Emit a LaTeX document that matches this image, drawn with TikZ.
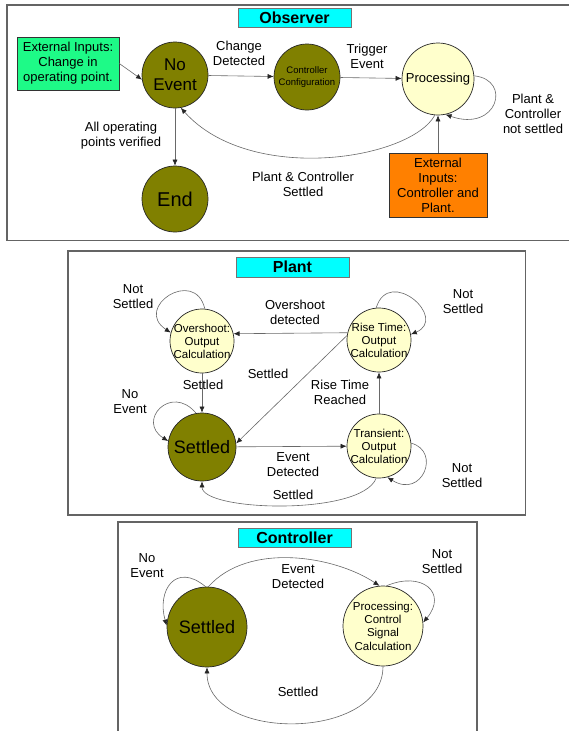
\documentclass[tikz,border=0pt]{standalone}
\usepackage{fontspec}
\setmainfont{Liberation Sans}
\usetikzlibrary{arrows.meta}
\definecolor{olivefill}{RGB}{128,128,0}
\definecolor{paleyellow}{RGB}{255,255,204}
\definecolor{titlecyan}{RGB}{0,255,255}
\definecolor{greenbox}{RGB}{30,250,135}
\definecolor{orangebox}{RGB}{255,128,0}
\definecolor{framegray}{RGB}{100,100,100}
\definecolor{edgegray}{RGB}{105,105,105}
\begin{document}
\begin{tikzpicture}[x=1pt,y=-1pt,
  frame/.style={draw=framegray, line width=1.3pt},
  titlebox/.style={fill=titlecyan, draw=black!55, line width=0.6pt, minimum width=113pt, minimum height=19pt, inner sep=0pt, font=\fontsize{16}{18}\selectfont\bfseries},
  darkstate/.style={circle, draw=black!85, fill=olivefill, inner sep=0pt, line width=0.7pt},
  lightstate/.style={circle, draw=black!85, fill=paleyellow, inner sep=0pt, line width=0.7pt},
  statetext/.style={align=center, inner sep=0pt},
  inbox/.style={draw=black!80, line width=0.6pt, align=center, inner sep=0pt, font=\fontsize{13}{15}\selectfont},
  lbl/.style={align=center, inner sep=0pt, font=\fontsize{13}{15}\selectfont},
  arr/.style={draw=edgegray, line width=0.6pt, -{Latex[length=6pt,width=5pt,color=black!85]}},
]
\useasboundingbox (0,0) rectangle (568,731);
\fill[white] (0,0) rectangle (568,731);

% ---------------- Observer ----------------
\draw[frame] (575,5) -- (7,5) -- (7,240.5) -- (575,240.5);
\node[titlebox] (tobs) at (294.5,18) {Observer};

\node[inbox, fill=greenbox, minimum width=102pt, minimum height=53pt] (green) at (68,63.5) {External Inputs:\\Change in\\operating point.};
\node[inbox, fill=orangebox, minimum width=98pt, minimum height=64pt] (orange) at (438,185) {External\\Inputs:\\Controller and\\Plant.};

\node[darkstate, minimum size=66pt] (noev) at (175,75) {};
\node[statetext, font=\fontsize{17}{20}\selectfont] (noevt) at (noev) {No\\Event};
\node[darkstate, minimum size=66pt] (cc) at (307,77) {};
\node[statetext, font=\fontsize{9.5}{11.5}\selectfont] (cct) at (cc) {Controller\\Configuration};
\node[lightstate, minimum size=72pt] (proc) at (438,79) {};
\node[statetext, font=\fontsize{13}{15}\selectfont] (proct) at (proc) {Processing};
\node[darkstate, minimum size=66pt] (end) at (175,199) {};
\node[statetext, font=\fontsize{20}{22}\selectfont] (endt) at (end) {End};

\node[lbl] (lchg) at (239,53.5) {Change\\Detected};
\node[lbl] (ltrig) at (367,56) {Trigger\\Event};
\node[lbl] (lnotset) at (533,113.5) {Plant \&\\Controller\\not settled};
\node[lbl] (lallop) at (121,136) {All operating\\points verified};
\node[lbl] (lpcs) at (303,184.5) {Plant \& Controller\\Settled};

\draw[arr] (green.east) -- (noev.188);
\draw[arr] (noev) -- (cc);
\draw[arr] (cc) -- (proc);
\draw[arr] (proc.5) .. controls +(38,4) and +(52,18) .. (proc.-78);
\draw[arr] (orange) -- (proc);
\draw[arr] (proc.-95) .. controls (410,160) and (250,185) .. (noev.-80);
\draw[arr] (noev) -- (end);

% ---------------- Plant ----------------
\draw[frame] (68,251) rectangle (525.5,515);
\node[titlebox, minimum height=20pt] (tplant) at (292.5,267) {Plant};

\node[lightstate, minimum size=64pt] (ov) at (202,341) {};
\node[statetext, font=\fontsize{11.5}{13}\selectfont] (ovt) at (ov) {Overshoot:\\Output\\Calculation};
\node[lightstate, minimum size=64pt] (rise) at (379,340) {};
\node[statetext, font=\fontsize{11.5}{13}\selectfont] (riset) at (rise) {Rise Time:\\Output\\Calculation};
\node[darkstate, minimum size=68pt] (set) at (202,447) {};
\node[statetext, font=\fontsize{18}{20}\selectfont] (sett) at (set) {Settled};
\node[lightstate, minimum size=64pt] (trans) at (379,446) {};
\node[statetext, font=\fontsize{11.5}{13}\selectfont] (transt) at (trans) {Transient:\\Output\\Calculation};

\node[lbl] (lp1) at (133,296.5) {Not\\Settled};
\node[lbl] (lp2) at (295,312.5) {Overshoot\\detected};
\node[lbl] (lp3) at (463,301.5) {Not\\Settled};
\node[lbl] (lp4) at (203,385) {Settled};
\node[lbl] (lp5) at (268,374) {Settled};
\node[lbl] (lp6) at (340,392.5) {Rise Time\\Reached};
\node[lbl] (lp7) at (130,401.5) {No\\Event};
\node[lbl] (lp8) at (293,464.5) {Event\\Detected};
\node[lbl] (lp9) at (462,475.5) {Not\\Settled};
\node[lbl] (lp10) at (293,495) {Settled};

\draw[arr] (ov.85) .. controls +(-10,-42) and +(-38,-25) .. (ov.165);
\draw[arr] (rise.167) -- (ov.13);
\draw[arr] (rise.95) .. controls +(13,-42) and +(38,-16) .. (rise.10);
\draw[arr] (ov) -- (set);
\draw[arr] (set.100) .. controls +(-25,-30) and +(-32,-20) .. (set.170);
\draw[arr] (rise.172) -- (set.6);
\draw[arr] (trans) -- (rise);
\draw[arr] (set) -- (trans);
\draw[arr] (trans.5) .. controls +(30,8) and +(35,22) .. (trans.-75);
\draw[arr] (trans.-95) .. controls +(-15,38) and +(0,30) .. (set.-90);

% ---------------- Controller ----------------
\draw[frame] (118,740) -- (118,522) -- (477,522) -- (477,740);
\node[titlebox] (tctrl) at (294.5,537.5) {Controller};

\node[darkstate, minimum size=80pt] (cs) at (207,627) {};
\node[statetext, font=\fontsize{18}{20}\selectfont] (cst) at (cs) {Settled};
\node[lightstate, minimum size=80pt] (cp) at (383,626) {};
\node[statetext, font=\fontsize{11.5}{13.3}\selectfont] (cpt) at (cp) {Processing:\\Control\\Signal\\Calculation};

\node[lbl] (lc1) at (147,565.5) {No\\Event};
\node[lbl] (lc2) at (298,577) {Event\\Detected};
\node[lbl] (lc3) at (442,561.5) {Not\\Settled};
\node[lbl] (lc4) at (298,692) {Settled};

\draw[arr] (cs.92) .. controls +(-30,-25) and +(-10,-35) .. (cs.178);
\draw[arr] (cs.88) .. controls +(40,-45) and +(-45,-30) .. (cp.95);
\draw[arr] (cp.85) .. controls +(35,-15) and +(25,-30) .. (cp.5);
\draw[arr] (cp.-90) .. controls +(0,75) and +(0,75) .. (cs.-90);
\end{tikzpicture}
\end{document}
